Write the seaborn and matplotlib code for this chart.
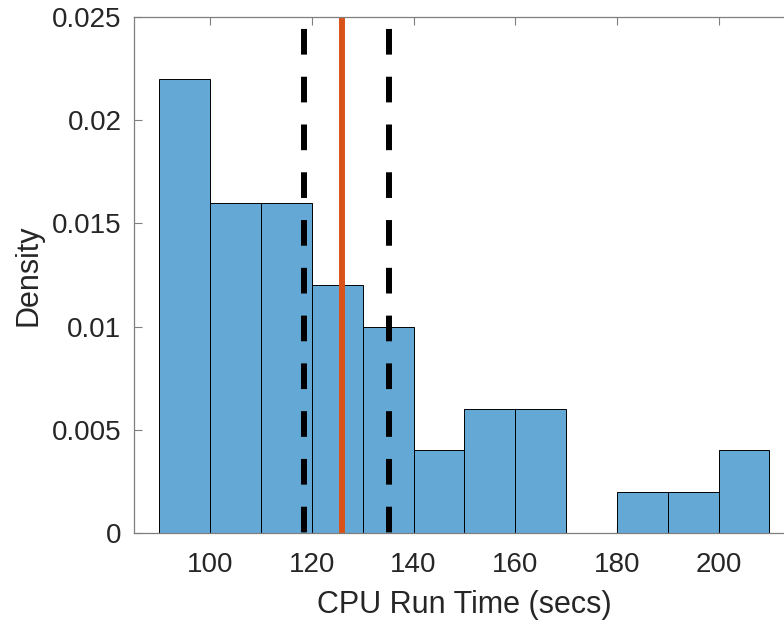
import numpy as np
import pandas as pd
import matplotlib
matplotlib.use("Agg")
import matplotlib.pyplot as plt
import seaborn as sns

# Histogram bins (secs) and counts per bin
bin_edges = [90, 100, 110, 120, 130, 140, 150, 160, 170, 180, 190, 200, 210]
bin_counts = [11, 8, 8, 6, 5, 2, 3, 3, 0, 1, 1, 2]
# Summary lines: mean and its interval
mean_time = 125.9
ci_bounds = [118.4, 135.2]
yticks = [0, 0.005, 0.01, 0.015, 0.02, 0.025]
ytick_labels = ["0", "0.005", "0.01", "0.015", "0.02", "0.025"]
xticks = [100, 120, 140, 160, 180, 200]

centers = [(a + b) / 2 for a, b in zip(bin_edges[:-1], bin_edges[1:])]
df = pd.DataFrame({"time": centers, "count": bin_counts})

sns.set_style("ticks")
plt.rcParams["font.family"] = ["Liberation Sans", "DejaVu Sans"]
text_color = "#262626"
spine_color = "#7f7f7f"

fig = plt.figure(figsize=(7.84, 6.22), dpi=100)
ax = fig.add_axes([0.1709, 0.1431, 0.843, 0.8296])

sns.histplot(data=df, x="time", weights="count", bins=bin_edges, stat="density",
             color="#64a9d6", alpha=1.0, edgecolor="black", linewidth=0.7, ax=ax)

# Interval bounds as dashed lines drawn top to bottom
for b in ci_bounds:
    ax.axvline(b, ymin=1, ymax=0, color="black", linewidth=4.3,
               linestyle=(6.0, (4.3, 3.7)), dash_capstyle="butt")
ax.axvline(mean_time, color="#d95319", linewidth=4.3)

ax.set_xlim(85, 215)
ax.set_ylim(0, 0.025)
ax.set_xticks(xticks)
ax.set_yticks(yticks)
ax.set_yticklabels(ytick_labels)

ax.tick_params(axis="both", direction="in", length=6, width=0.8, color=spine_color,
               labelsize=20, labelcolor=text_color, top=True, right=True)
ax.tick_params(axis="y", pad=9)
ax.tick_params(axis="x", pad=14)
for s in ax.spines.values():
    s.set_color(spine_color)
    s.set_linewidth(0.9)

ax.set_xlabel("CPU Run Time (secs)", fontsize=22, color=text_color, labelpad=8)
ax.set_ylabel("Density", fontsize=22, color=text_color, labelpad=6)

fig.savefig("out.png", dpi=100)
